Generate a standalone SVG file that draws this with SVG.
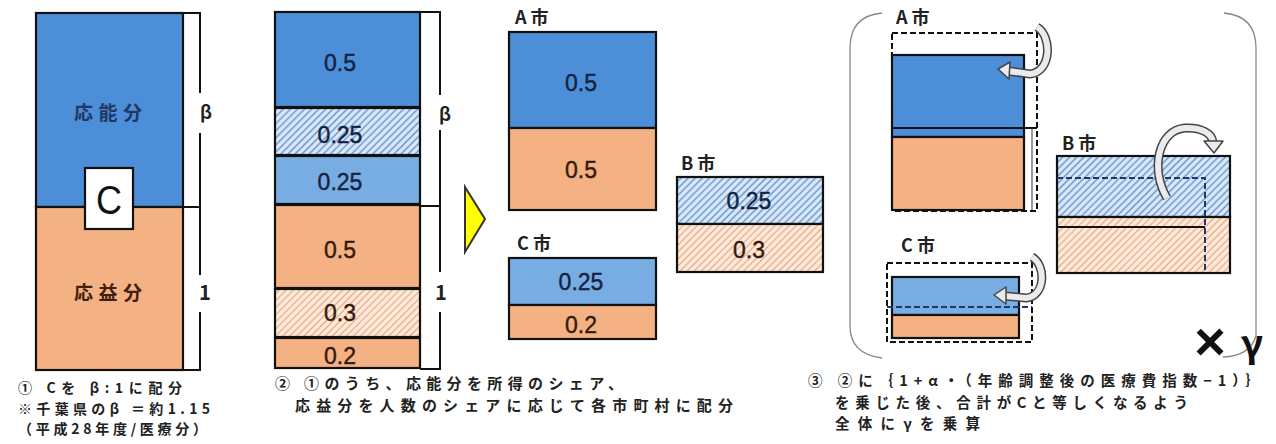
<svg xmlns="http://www.w3.org/2000/svg" width="1276" height="444" viewBox="0 0 1276 444">
<defs>
<pattern id="hb" width="5" height="5" patternUnits="userSpaceOnUse" patternTransform="rotate(45)"><rect width="5" height="5" fill="#dde9f7"/><line x1="2.5" y1="0" x2="2.5" y2="5" stroke="#5b93d3" stroke-width="1.4"/></pattern>
<pattern id="ho" width="5" height="5" patternUnits="userSpaceOnUse" patternTransform="rotate(45)"><rect width="5" height="5" fill="#fdeadd"/><line x1="2.5" y1="0" x2="2.5" y2="5" stroke="#eaa67a" stroke-width="1.2"/></pattern>
</defs>
<style>
.blue{fill:#4d8ed8;stroke:#111;stroke-width:2.2}
.lblue{fill:#77ade3;stroke:#111;stroke-width:2.2}
.org{fill:#f4b183;stroke:#111;stroke-width:2.2}
.hb{fill:url(#hb);stroke:#111;stroke-width:2.2}
.ho{fill:url(#ho);stroke:#111;stroke-width:2.2}
.brk{fill:none;stroke:#111;stroke-width:2}
.dash{fill:none;stroke:#111;stroke-width:2;stroke-dasharray:6 3}
.num{font-family:"Liberation Sans",Arial,sans-serif;font-size:23px;text-anchor:middle;fill:#14223e;stroke:#14223e;stroke-width:0.4}
.numo{font-family:"Liberation Sans",Arial,sans-serif;font-size:23px;text-anchor:middle;fill:#341a0b;stroke:#341a0b;stroke-width:0.4}
.lbl{font-family:"Noto Sans CJK JP",sans-serif;font-weight:bold;font-size:18px;fill:#222}
.cap{font-family:"Noto Sans CJK JP",sans-serif;font-weight:bold;font-size:14.5px;fill:#222}
.arw{fill:none;stroke:#444;stroke-width:9}
.arwi{fill:none;stroke:#e9ebee;stroke-width:6}
.ahd{fill:#e9ebee;stroke:#444;stroke-width:1.5;stroke-linejoin:round}
.paren{fill:none;stroke:#888;stroke-width:1.3}
</style>
<rect width="1276" height="444" fill="#fff"/>

<g id="panel1">
<rect class="blue" x="36" y="13" width="147" height="194"/>
<rect class="org" x="36" y="207" width="147" height="163"/>
<text class="lbl" x="108" y="120" text-anchor="middle" style="fill:#1f3864;font-size:19px" textLength="68">応能分</text>
<text class="lbl" x="108" y="300" text-anchor="middle" style="fill:#40210f;font-size:19px" textLength="68">応益分</text>
<rect x="85" y="168" width="48" height="61" fill="#fff" stroke="#111" stroke-width="2.2"/>
<text x="109" y="214" text-anchor="middle" font-family="Liberation Sans, Arial, sans-serif" font-size="40" fill="#111" textLength="26" lengthAdjust="spacingAndGlyphs">C</text>
<path class="brk" d="M183,13 H200 V93 M200,133 V207 H183 M200,207 V275 M200,312 V370 H183"/>
<text class="lbl" x="206" y="119" text-anchor="middle">β</text>
<text class="lbl" x="205" y="300" text-anchor="middle" style="font-size:20px">1</text>
<text class="cap" x="18" y="393" textLength="164" style="font-size:14px">① Cを β:1に配分</text>
<text class="cap" x="18" y="413.5" textLength="192" style="font-size:14px">※千葉県のβ ＝約1.15</text>
<text class="cap" x="18" y="434" textLength="189" style="font-size:14px">（平成28年度/医療分）</text>
</g>

<g id="panel2">
<rect class="blue" x="275" y="12" width="145" height="95"/>
<rect class="hb" x="275" y="108" width="145" height="47"/>
<rect class="lblue" x="275" y="156" width="145" height="48"/>
<rect class="org" x="275" y="205" width="145" height="83"/>
<rect class="ho" x="275" y="289" width="145" height="48"/>
<rect class="org" x="275" y="338" width="145" height="30"/>
<text class="num" x="340" y="71">0.5</text>
<text class="num" x="340" y="143">0.25</text>
<text class="num" x="340" y="190">0.25</text>
<text class="numo" x="340" y="258">0.5</text>
<text class="numo" x="340" y="321">0.3</text>
<text class="numo" x="340" y="364">0.2</text>
<path class="brk" d="M420,12 H440 V95 M440,130 V206 H420 M440,206 V272 M440,312 V369 H420"/>
<text class="lbl" x="445" y="121" text-anchor="middle">β</text>
<text class="lbl" x="441" y="300" text-anchor="middle" style="font-size:20px">1</text>
<text class="cap" x="275" y="389" textLength="348" style="font-size:15px">② ①のうち、応能分を所得のシェア、</text>
<text class="cap" x="295" y="411" textLength="438" style="font-size:15px">応益分を人数のシェアに応じて各市町村に配分</text>
</g>

<g id="connectors">
<polygon points="465,187 485,219 465,252" fill="#ffff00" stroke="#333" stroke-width="2" stroke-linejoin="miter"/>
</g>

<g id="panel3">
<text class="lbl" x="515" y="24">A 市</text>
<rect class="blue" x="509" y="32" width="147" height="96"/>
<rect class="org" x="509" y="128" width="147" height="82"/>
<text class="num" x="581" y="91">0.5</text>
<text class="numo" x="581" y="178">0.5</text>
<text class="lbl" x="681" y="170">B 市</text>
<rect class="hb" x="677" y="177" width="146" height="47"/>
<rect class="ho" x="677" y="224" width="146" height="48"/>
<text class="num" x="749" y="209">0.25</text>
<text class="numo" x="749" y="258">0.3</text>
<text class="lbl" x="517" y="250">C 市</text>
<rect class="lblue" x="509" y="258" width="147" height="47"/>
<rect class="org" x="509" y="305" width="147" height="34"/>
<text class="num" x="581" y="290">0.25</text>
<text class="numo" x="581" y="333">0.2</text>
</g>

<g id="panel4">
<path class="paren" d="M882,13 Q850,16 850,48 V326 Q850,354 882,358"/>
<path class="paren" d="M1224,13 Q1256,16 1256,48 V336 Q1250,356 1223,357"/>
<text class="lbl" x="896" y="24">A 市</text>
<rect class="blue" x="892" y="55" width="132" height="82"/>
<rect class="org" x="892" y="137" width="132" height="73"/>
<line x1="892" y1="128" x2="1037" y2="128" stroke="#111" stroke-width="2"/>
<line x1="1032" y1="128" x2="1032" y2="211" stroke="#333" stroke-width="1"/>
<rect class="dash" x="892" y="33" width="145" height="178"/>
<path class="arw" d="M1037,27 C1052,36 1052,72 1030,74 L1008,71"/>
<path class="arwi" d="M1037,27 C1052,36 1052,72 1030,74 L1008,71"/>
<polygon class="ahd" points="1010,62 998,69 1009,79"/>

<text class="lbl" x="1062" y="150">B 市</text>
<rect class="hb" x="1057" y="156" width="173" height="61"/>
<rect class="ho" x="1057" y="217" width="173" height="56"/>
<line x1="1057" y1="227" x2="1205" y2="227" stroke="#111" stroke-width="2"/>
<path class="dash" d="M1057,178 H1205 V273" style="stroke:#1f3864"/>
<path class="arw" d="M1167,198 C1150,170 1158,130 1185,128 C1202,127 1212,134 1213,142"/>
<path class="arwi" d="M1167,198 C1150,170 1158,130 1185,128 C1202,127 1212,134 1213,142"/>
<polygon class="ahd" points="1204,141 1214,153 1223,141"/>

<text class="lbl" x="901" y="252">C 市</text>
<rect class="lblue" x="892" y="277" width="127" height="38"/>
<rect class="org" x="892" y="315" width="127" height="23"/>
<line x1="887" y1="307" x2="1032" y2="307" stroke="#1f3864" stroke-width="2" stroke-dasharray="6 3"/>
<rect class="dash" x="887" y="263" width="145" height="79"/>
<path class="arw" d="M1032,257 C1046,265 1046,296 1026,298 L1005,296"/>
<path class="arwi" d="M1032,257 C1046,265 1046,296 1026,298 L1005,296"/>
<polygon class="ahd" points="1006,287 994,295 1006,304"/>

<text x="1210" y="360" text-anchor="middle" font-family="Liberation Sans, Arial, sans-serif" font-weight="bold" font-size="54" fill="#111">×</text>
<text x="1252" y="357" text-anchor="middle" font-family="Noto Sans CJK JP, sans-serif" font-weight="bold" font-size="38" fill="#111">γ</text>
<text class="cap" x="808" y="386" textLength="452">③ ②に｛1+α・（年齢調整後の医療費指数−1）｝</text>
<text class="cap" x="835" y="408" textLength="353">を乗じた後、合計がCと等しくなるよう</text>
<text class="cap" x="835" y="429" textLength="145">全体にγを乗算</text>
</g>
</svg>
